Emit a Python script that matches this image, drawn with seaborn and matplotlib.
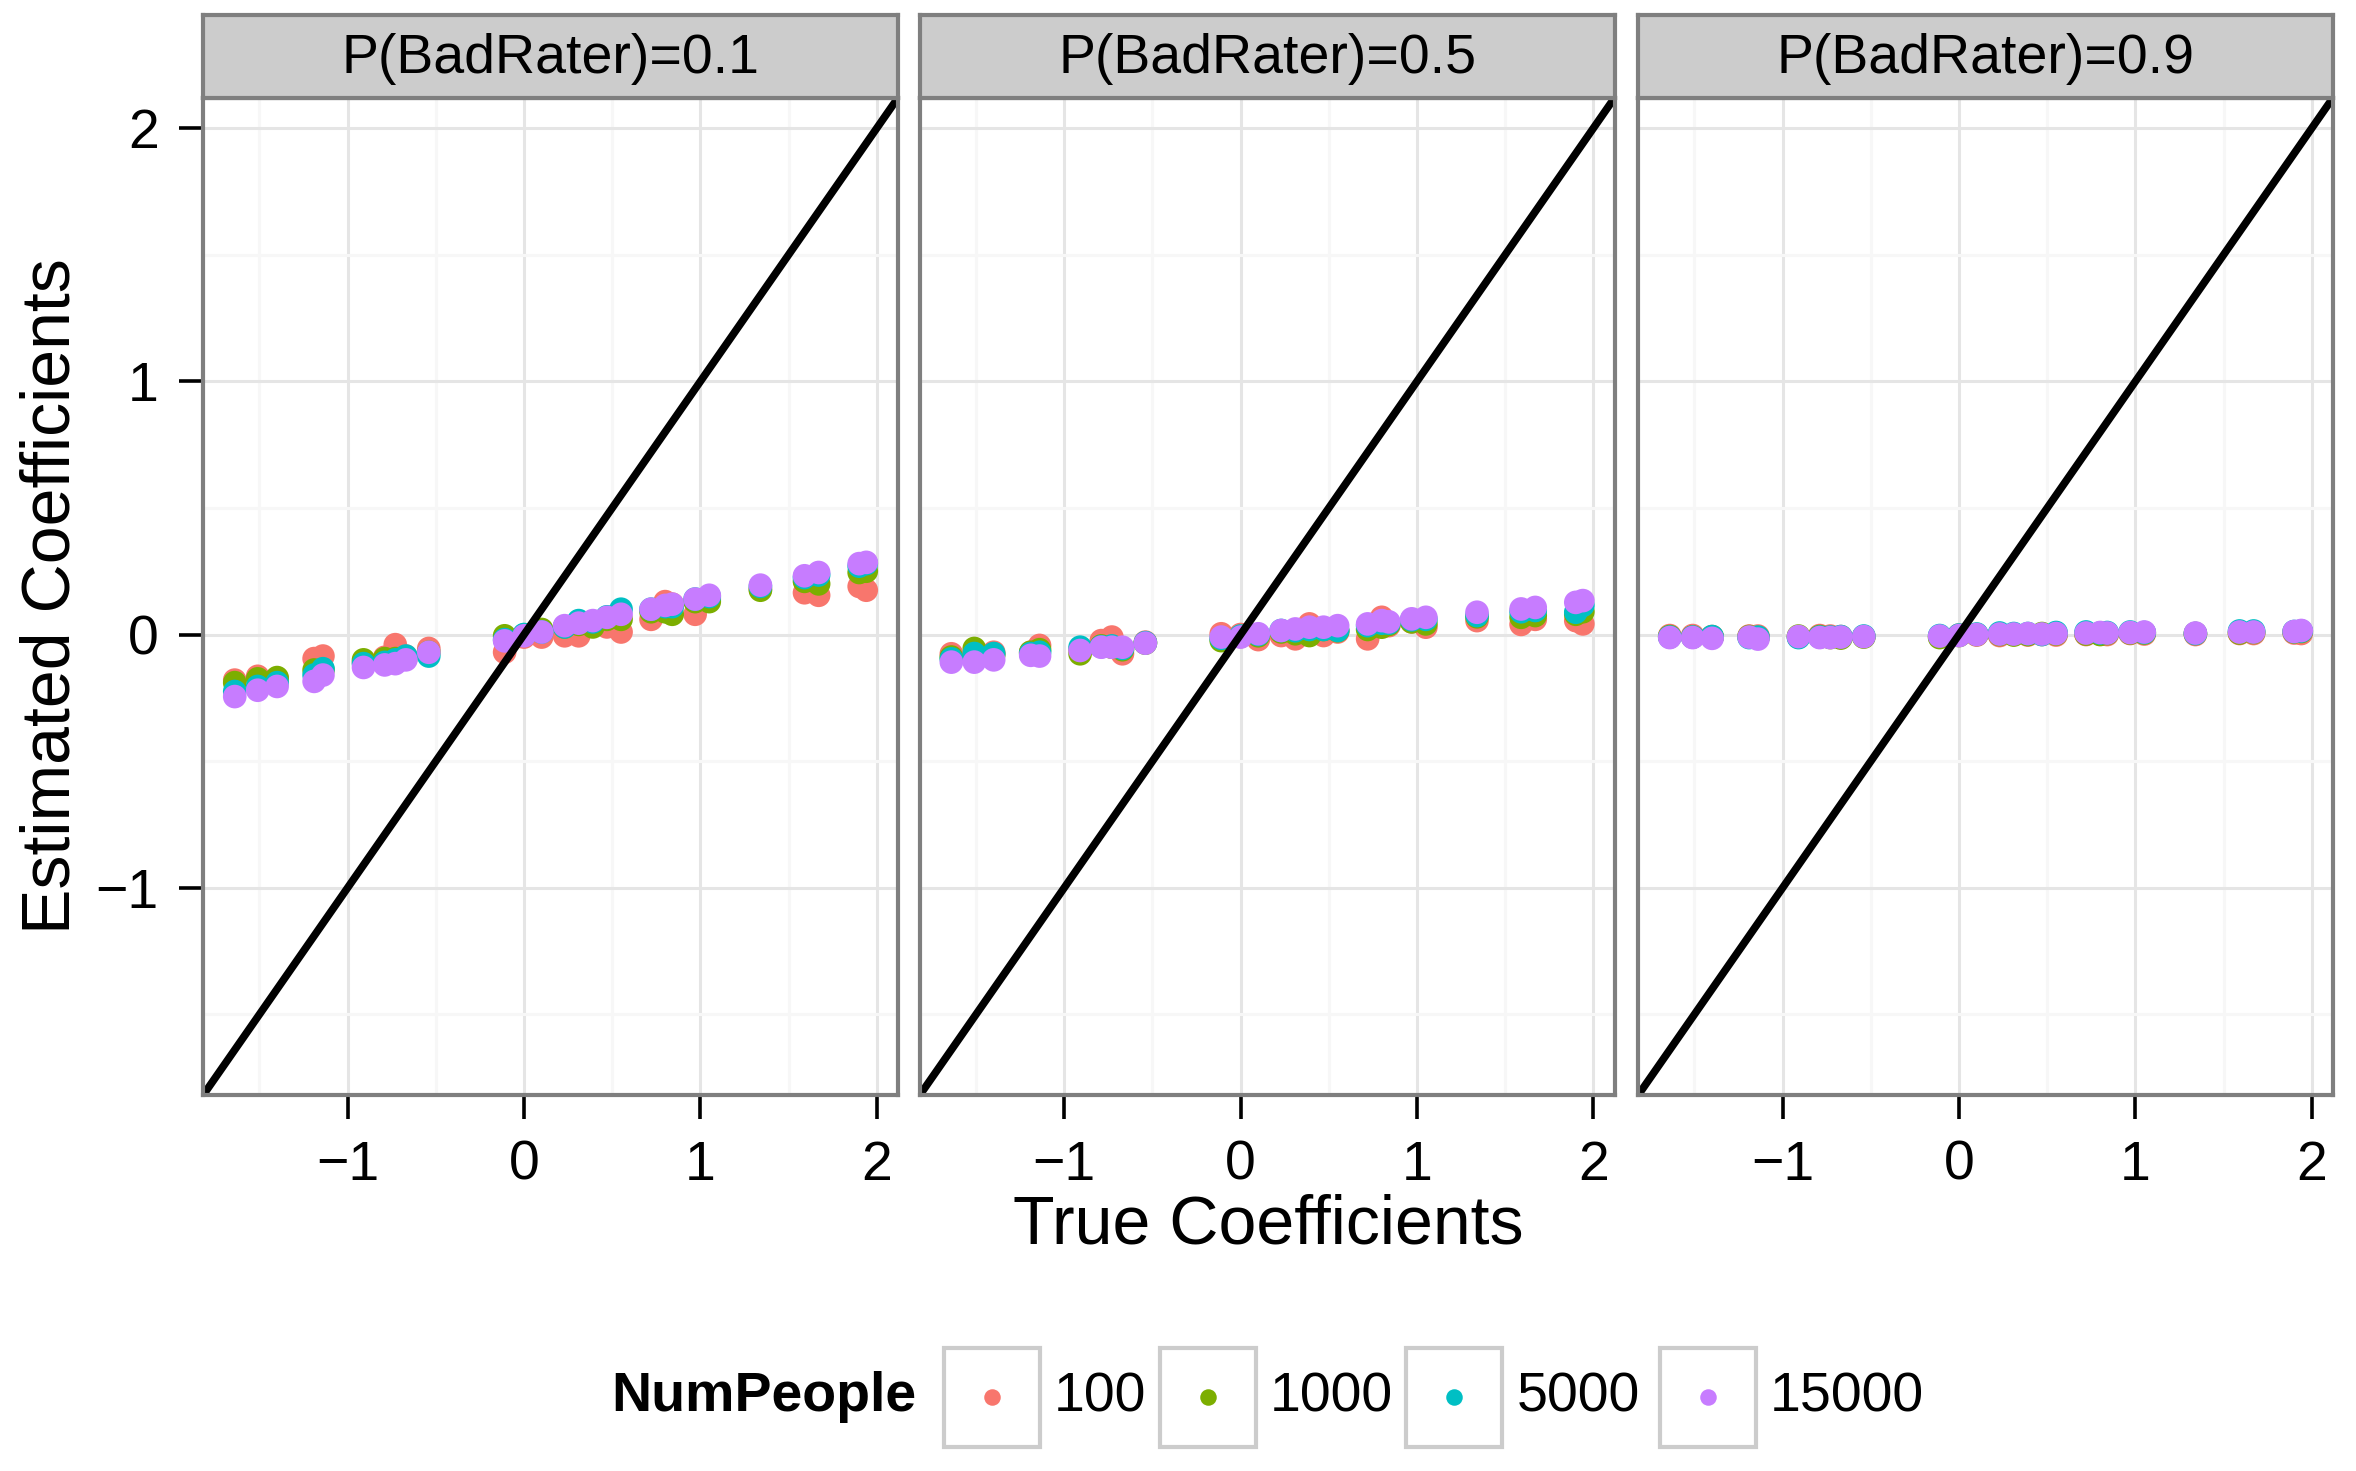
import numpy as np
import pandas as pd
import matplotlib
matplotlib.use("Agg")
import matplotlib.pyplot as plt
from matplotlib.lines import Line2D
from matplotlib.patches import Rectangle
import seaborn as sns

# True coefficients (shared by every simulation run)
true_coef = [-1.64, -1.51, -1.40, -1.19, -1.14, -0.91, -0.79, -0.73, -0.67, -0.54,
             -0.11, 0.00, 0.10, 0.23, 0.31, 0.39, 0.47, 0.55, 0.72, 0.80,
             0.84, 0.97, 1.05, 1.34, 1.59, 1.67, 1.90, 1.94]

num_people = ["100", "1000", "5000", "15000"]
bad_rater_probs = [0.1, 0.5, 0.9]
palette = ["#F8766D", "#7CAE00", "#00BFC4", "#C77CFF"]

# Estimated coefficients, P(BadRater)=0.1
est_p1_n100 = [-0.180, -0.165, -0.175, -0.095, -0.085, -0.110, -0.090, -0.040, -0.085, -0.055,
               -0.070, -0.010, -0.010, -0.005, -0.005, 0.040, 0.030, 0.010, 0.060, 0.130,
               0.120, 0.080, 0.140, 0.180, 0.165, 0.155, 0.190, 0.175]
est_p1_n1000 = [-0.190, -0.175, -0.170, -0.140, -0.140, -0.100, -0.095, -0.095, -0.095, -0.070,
                -0.005, -0.002, 0.020, 0.030, 0.040, 0.030, 0.060, 0.060, 0.090, 0.090,
                0.080, 0.130, 0.130, 0.175, 0.210, 0.200, 0.245, 0.250]
est_p1_n5000 = [-0.225, -0.205, -0.190, -0.160, -0.135, -0.115, -0.110, -0.100, -0.085, -0.085,
                -0.020, 0.000, 0.010, 0.030, 0.055, 0.050, 0.070, 0.100, 0.100, 0.110,
                0.110, 0.140, 0.150, 0.190, 0.225, 0.235, 0.270, 0.280]
est_p1_n15000 = [-0.245, -0.220, -0.205, -0.185, -0.160, -0.130, -0.120, -0.115, -0.100, -0.070,
                 -0.025, -0.005, 0.010, 0.035, 0.045, 0.055, 0.068, 0.080, 0.100, 0.115,
                 0.120, 0.140, 0.155, 0.195, 0.232, 0.245, 0.280, 0.285]

# Estimated coefficients, P(BadRater)=0.5
est_p5_n100 = [-0.076, -0.080, -0.070, -0.070, -0.043, -0.060, -0.024, -0.010, -0.076, -0.030,
               0.003, 0.000, -0.020, -0.004, -0.017, 0.042, -0.004, 0.010, -0.017, 0.068,
               0.035, 0.050, 0.029, 0.055, 0.040, 0.060, 0.055, 0.042]
est_p5_n1000 = [-0.089, -0.055, -0.081, -0.070, -0.060, -0.076, -0.045, -0.050, -0.060, -0.034,
                -0.024, -0.008, -0.005, 0.010, 0.003, -0.004, 0.020, 0.015, 0.020, 0.029,
                0.040, 0.050, 0.042, 0.070, 0.068, 0.075, 0.080, 0.090]
est_p5_n5000 = [-0.096, -0.075, -0.075, -0.075, -0.070, -0.050, -0.048, -0.045, -0.055, -0.032,
                -0.015, -0.006, 0.000, 0.016, 0.015, 0.020, 0.020, 0.016, 0.035, 0.045,
                0.045, 0.058, 0.060, 0.075, 0.090, 0.095, 0.088, 0.115]
est_p5_n15000 = [-0.109, -0.109, -0.100, -0.082, -0.085, -0.063, -0.050, -0.050, -0.050, -0.034,
                 -0.010, -0.010, 0.003, 0.016, 0.022, 0.029, 0.029, 0.035, 0.042, 0.055,
                 0.050, 0.062, 0.068, 0.088, 0.101, 0.107, 0.127, 0.134]

# Estimated coefficients, P(BadRater)=0.9
est_p9_n100 = [-0.004, -0.004, -0.008, -0.006, -0.006, -0.010, -0.004, -0.006, -0.008, -0.008,
               -0.008, -0.002, -0.002, -0.004, 0.000, -0.002, 0.000, -0.002, 0.000, 0.002,
               0.000, 0.004, 0.002, 0.000, 0.004, 0.004, 0.006, 0.004]
est_p9_n1000 = [-0.008, -0.010, -0.010, -0.008, -0.012, -0.006, -0.008, -0.012, -0.014, -0.010,
                -0.012, -0.004, 0.000, 0.000, -0.002, 0.000, 0.004, 0.002, 0.002, 0.000,
                0.004, 0.006, 0.006, 0.004, 0.006, 0.008, 0.010, 0.012]
est_p9_n5000 = [-0.010, -0.010, -0.008, -0.012, -0.010, -0.012, -0.010, -0.010, -0.008, -0.006,
                -0.004, -0.002, 0.002, 0.006, 0.004, 0.004, 0.000, 0.008, 0.010, 0.006,
                0.008, 0.010, 0.008, 0.004, 0.014, 0.014, 0.012, 0.014]
est_p9_n15000 = [-0.012, -0.012, -0.015, -0.010, -0.018, -0.008, -0.012, -0.012, -0.010, -0.008,
                 -0.006, -0.004, 0.000, 0.002, 0.002, 0.004, 0.002, 0.004, 0.006, 0.008,
                 0.006, 0.008, 0.010, 0.006, 0.010, 0.010, 0.012, 0.016]

estimates = {
    0.1: [est_p1_n100, est_p1_n1000, est_p1_n5000, est_p1_n15000],
    0.5: [est_p5_n100, est_p5_n1000, est_p5_n5000, est_p5_n15000],
    0.9: [est_p9_n100, est_p9_n1000, est_p9_n5000, est_p9_n15000],
}

rows = []
for p in bad_rater_probs:
    for n, est in zip(num_people, estimates[p]):
        for t, e in zip(true_coef, est):
            rows.append({"PBad": p, "NumPeople": n, "TrueCoef": t, "EstCoef": e})
df = pd.DataFrame(rows)

sns.set_style("white")
plt.rcParams["font.family"] = ["Liberation Sans", "DejaVu Sans"]
plt.rcParams["axes.unicode_minus"] = True

W, H = 2356, 1471
fig = plt.figure(figsize=(W / 100, H / 100), dpi=100)
fig.patch.set_facecolor("white")

SMALL = 40
BASE = 49
border_col = "#7F7F7F"
lims = (-1.82, 2.12)

panel_lefts = [203, 919.6, 1638]
panel_w = 695
panel_top, panel_bot = 97.7, 1095.4
strip_top = 15

for i, p in enumerate(bad_rater_probs):
    l = panel_lefts[i]
    ax = fig.add_axes([l / W, 1 - panel_bot / H, panel_w / W, (panel_bot - panel_top) / H])
    sub = df[df["PBad"] == p]
    sns.scatterplot(data=sub, x="TrueCoef", y="EstCoef", hue="NumPeople",
                    hue_order=num_people, palette=palette, s=290, linewidth=0,
                    alpha=1, legend=False, ax=ax, zorder=3)
    ax.axline((0, 0), slope=1, color="black", lw=5.5, zorder=4)
    ax.set_xlim(lims)
    ax.set_ylim(lims)
    ax.set_xticks([-1, 0, 1, 2])
    ax.set_yticks([-1, 0, 1, 2])
    ax.set_xticks([-1.5, -0.5, 0.5, 1.5], minor=True)
    ax.set_yticks([-1.5, -0.5, 0.5, 1.5], minor=True)
    ax.set_axisbelow(True)
    ax.grid(which="major", color="#E5E5E5", lw=2.2)
    ax.grid(which="minor", color="#F7F7F7", lw=2.2)
    ax.tick_params(which="major", length=17, width=2.6, color="black",
                   labelsize=SMALL, pad=15, labelcolor="black",
                   bottom=True, left=(i == 0), labelleft=(i == 0))
    ax.tick_params(which="minor", length=0)
    ax.set_xlabel("")
    ax.set_ylabel("")
    for sp in ax.spines.values():
        sp.set_color(border_col)
        sp.set_linewidth(3)
        sp.set_zorder(5)

    sax = fig.add_axes([l / W, 1 - panel_top / H, panel_w / W, (panel_top - strip_top) / H])
    sax.set_facecolor("#CCCCCC")
    sax.set_xticks([])
    sax.set_yticks([])
    for sp in sax.spines.values():
        sp.set_color(border_col)
        sp.set_linewidth(3)
    sax.text(0.5, 0.47, f"P(BadRater)={p}", ha="center", va="center",
             fontsize=SMALL, color="black", transform=sax.transAxes)

fig.text(1268 / W, 1 - 1225 / H, "True Coefficients", ha="center", va="center",
         fontsize=BASE, color="black")
fig.text(52 / W, 1 - 596.5 / H, "Estimated Coefficients", ha="center", va="center",
         rotation=90, fontsize=BASE, color="black")

# Legend: NumPeople keys in framed boxes
leg_y = 1397
fig.text(611 / W, 1 - leg_y / H, "NumPeople", ha="left", va="center",
         fontsize=SMALL, fontweight="bold", color="black")
box_lefts = [943.6, 1160, 1406.4, 1660]
box_w, box_h = 96, 99
for bl, lab, col in zip(box_lefts, num_people, palette):
    fig.add_artist(Rectangle((bl / W, 1 - (leg_y + box_h / 2) / H), box_w / W, box_h / H,
                             transform=fig.transFigure, facecolor="white",
                             edgecolor="#CCCCCC", lw=3))
    fig.add_artist(Line2D([(bl + box_w / 2) / W], [1 - leg_y / H], marker="o",
                          markersize=11.9, markerfacecolor=col, markeredgewidth=0,
                          linestyle="none", transform=fig.transFigure))
    fig.text((bl + box_w + 14) / W, 1 - leg_y / H, lab, ha="left", va="center",
             fontsize=SMALL, color="black")

fig.savefig("out.png", dpi=100, facecolor="white")
